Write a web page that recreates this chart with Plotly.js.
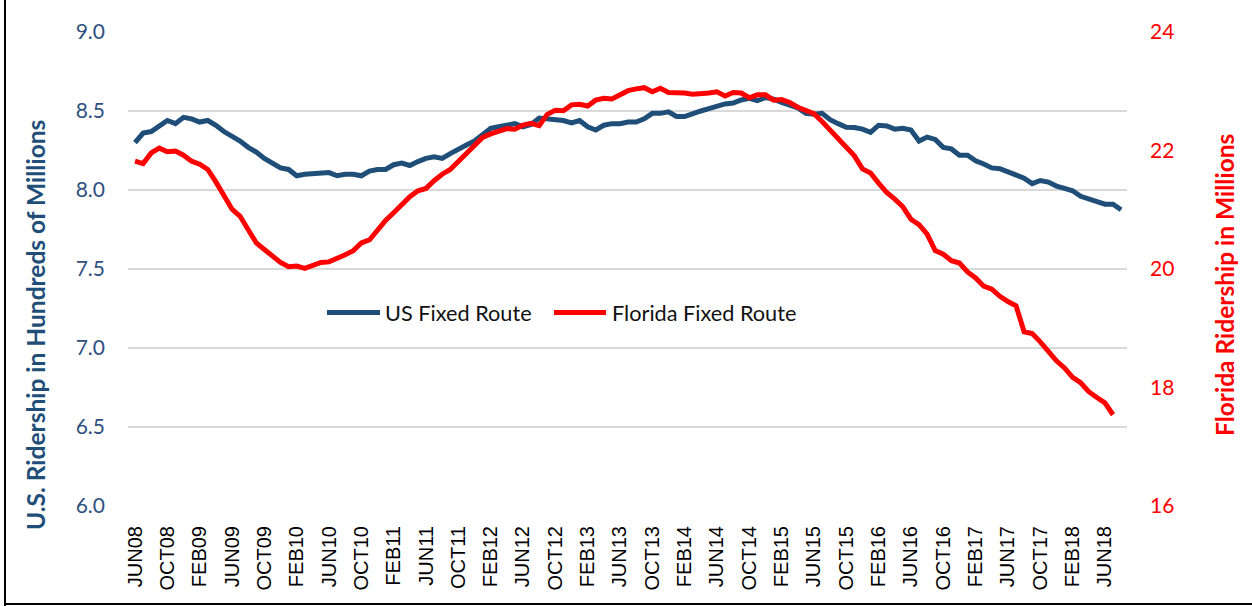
<!DOCTYPE html>
<html>
<head>
<meta charset="utf-8">
<script src="https://cdn.plot.ly/plotly-3.0.1.min.js"></script>
<style>
  html, body { margin: 0; padding: 0; background: #fff; }
  #wrap { position: relative; width: 1252px; height: 606px; overflow: hidden; }
  #chart { position: absolute; left: 0; top: 0; width: 1252px; height: 606px; }
  #bl { position: absolute; left: 4px; top: 0; width: 2px; height: 606px; background: #000; }
  #bb { position: absolute; left: 4px; top: 603px; width: 1248px; height: 2px; background: #000; }
</style>
</head>
<body>
<div id="wrap">
  <div id="chart"></div>
  <div id="bl"></div>
  <div id="bb"></div>
</div>
<script>
// Month names used to build the category labels (JUN08 ... AUG18)
const monthNames = ['JAN','FEB','MAR','APR','MAY','JUN','JUL','AUG','SEP','OCT','NOV','DEC'];
const startYear = 2008, startMonth = 5, nMonths = 123;
const categories = [];
for (let k = 0; k < nMonths; k++) {
  const m = (startMonth + k) % 12;
  const y = startYear + Math.floor((startMonth + k) / 12);
  categories.push(monthNames[m] + String(y % 100).padStart(2, '0'));
}

// Tick labels shown on the x axis
const tickLabels = ['JUN08','OCT08','FEB09','JUN09','OCT09','FEB10','JUN10','OCT10','FEB11','JUN11',
  'OCT11','FEB12','JUN12','OCT12','FEB13','JUN13','OCT13','FEB14','JUN14','OCT14','FEB15','JUN15',
  'OCT15','FEB16','JUN16','OCT16','FEB17','JUN17','OCT17','FEB18','JUN18'];

// US Fixed Route ridership (hundreds of millions), JUN08 - AUG18
const usFixedRoute = [
  8.30, 8.36, 8.37, 8.41, 8.44, 8.42, 8.46, 8.45, 8.43, 8.44,
  8.41, 8.37, 8.34, 8.31, 8.27, 8.24, 8.20, 8.17, 8.14, 8.13,
  8.09, 8.10, 8.105, 8.11, 8.11, 8.09, 8.10, 8.10, 8.09, 8.12,
  8.13, 8.13, 8.16, 8.17, 8.155, 8.18, 8.20, 8.21, 8.20, 8.23,
  8.26, 8.285, 8.31, 8.35, 8.39, 8.40, 8.41, 8.42, 8.40, 8.415,
  8.455, 8.45, 8.445, 8.44, 8.425, 8.44, 8.40, 8.38, 8.41, 8.42,
  8.42, 8.43, 8.43, 8.45, 8.485, 8.485, 8.495, 8.465, 8.465, 8.485,
  8.50, 8.515, 8.53, 8.545, 8.55, 8.57, 8.58, 8.565, 8.585, 8.575,
  8.555, 8.54, 8.52, 8.485, 8.48, 8.485, 8.445, 8.42, 8.397, 8.395,
  8.385, 8.365, 8.41, 8.405, 8.385, 8.39, 8.38, 8.31, 8.335, 8.32,
  8.27, 8.26, 8.22, 8.22, 8.185, 8.165, 8.14, 8.135, 8.115, 8.10,
  8.075, 8.04, 8.06, 8.05, 8.025, 8.01, 7.995, 7.96, 7.945, 7.93,
  7.91, 7.91, 7.875
];

// Florida Fixed Route ridership (millions), JUN08 - JUL18
const floridaFixedRoute = [
  21.82, 21.78, 21.96, 22.04, 21.98, 21.99, 21.92, 21.82, 21.77, 21.68,
  21.47, 21.25, 21.01, 20.89, 20.66, 20.44, 20.33, 20.22, 20.11, 20.04,
  20.05, 20.01, 20.05, 20.11, 20.12, 20.17, 20.24, 20.31, 20.44, 20.49,
  20.66, 20.82, 20.95, 21.08, 21.22, 21.32, 21.36, 21.49, 21.60, 21.68,
  21.81, 21.96, 22.09, 22.22, 22.28, 22.33, 22.37, 22.36, 22.43, 22.46,
  22.42, 22.61, 22.68, 22.67, 22.77, 22.78, 22.75, 22.85, 22.88, 22.87,
  22.94, 23.01, 23.04, 23.06, 22.99, 23.05, 22.98, 22.98, 22.97, 22.95,
  22.95, 22.97, 22.99, 22.92, 22.98, 22.97, 22.89, 22.94, 22.94, 22.85,
  22.86, 22.81, 22.73, 22.68, 22.62, 22.49, 22.35, 22.18, 22.07, 21.91,
  21.69, 21.62, 21.45, 21.29, 21.18, 21.05, 20.84, 20.75, 20.59, 20.31,
  20.25, 20.14, 20.10, 19.95, 19.85, 19.71, 19.66, 19.54, 19.45, 19.38,
  18.94, 18.91, 18.77, 18.60, 18.45, 18.33, 18.17, 18.08, 17.93, 17.83,
  17.74, 17.54
];

const seriesNames = ['US Fixed Route', 'Florida Fixed Route'];
const BLUE = '#1F4E79';
const RED = '#FF0000';

const traces = [
  {
    x: categories.slice(0, usFixedRoute.length), y: usFixedRoute, name: seriesNames[0],
    type: 'scatter', mode: 'lines', yaxis: 'y',
    line: { color: BLUE, width: 5 }, hoverinfo: 'x+y'
  },
  {
    x: categories.slice(0, floridaFixedRoute.length), y: floridaFixedRoute, name: seriesNames[1],
    type: 'scatter', mode: 'lines', yaxis: 'y2',
    line: { color: RED, width: 5 }, hoverinfo: 'x+y'
  }
];

// plot area in pixels: x 128..1127, y 32..506
const L = 128, R = 1127, T = 32, B = 506, W = 1252, H = 606;
const px = v => (v - L) / (R - L);
const py = v => (B - v) / (B - T);

const layout = {
  width: W, height: H,
  margin: { l: L, r: W - R, t: T, b: H - B, pad: 0 },
  paper_bgcolor: '#ffffff', plot_bgcolor: '#ffffff',
  showlegend: false,
  xaxis: {
    type: 'category',
    categoryorder: 'array', categoryarray: categories,
    range: [-0.87, 122.73],
    showgrid: false, zeroline: false, showline: false,
    ticks: '', tickmode: 'array', tickvals: tickLabels, ticktext: tickLabels,
    tickangle: -90,
    ticklabelstandoff: 15,
    tickfont: { family: 'Liberation Sans, Arial, sans-serif', size: 20, color: '#000000' }
  },
  yaxis: {
    range: [6, 9], dtick: 0.5, tick0: 6, tickformat: '.1f',
    showgrid: true, gridcolor: '#d9d9d9', gridwidth: 1.5,
    zeroline: false, showline: false, ticks: '',
    ticklabelstandoff: 22,
    tickfont: { family: 'Lato, Open Sans, sans-serif', size: 21, color: '#2F5080' }
  },
  yaxis2: {
    range: [16, 24], dtick: 2, tick0: 16,
    overlaying: 'y', side: 'right',
    showgrid: false, zeroline: false, showline: false, ticks: '',
    ticklabelstandoff: 22,
    tickfont: { family: 'Lato, Open Sans, sans-serif', size: 21, color: RED }
  },
  shapes: [
    { type: 'line', xref: 'paper', yref: 'paper', x0: px(327), x1: px(380), y0: py(312.5), y1: py(312.5),
      line: { color: BLUE, width: 5 } },
    { type: 'line', xref: 'paper', yref: 'paper', x0: px(554), x1: px(606), y0: py(312.5), y1: py(312.5),
      line: { color: RED, width: 5 } }
  ],
  annotations: [
    { xref: 'paper', yref: 'paper', x: px(383), y: py(312.5), xanchor: 'left', yanchor: 'middle',
      text: seriesNames[0], showarrow: false,
      font: { family: 'Lato, Open Sans, sans-serif', size: 21.7, color: '#111111' } },
    { xref: 'paper', yref: 'paper', x: px(610), y: py(312.5), xanchor: 'left', yanchor: 'middle',
      text: seriesNames[1], showarrow: false,
      font: { family: 'Lato, Open Sans, sans-serif', size: 21.7, color: '#111111' } },
    { xref: 'paper', yref: 'paper', x: px(35), y: py(325), xanchor: 'center', yanchor: 'middle',
      text: '<b>U.S. Ridership in Hundreds of Millions</b>', showarrow: false, textangle: -90,
      font: { family: 'Lato, Open Sans, sans-serif', size: 24.5, color: BLUE } },
    { xref: 'paper', yref: 'paper', x: px(1224), y: py(285), xanchor: 'center', yanchor: 'middle',
      text: '<b>Florida Ridership in Millions</b>', showarrow: false, textangle: -90,
      font: { family: 'Lato, Open Sans, sans-serif', size: 24.5, color: RED } }
  ]
};

Plotly.newPlot('chart', traces, layout, { displayModeBar: false, staticPlot: true });
</script>
</body>
</html>
